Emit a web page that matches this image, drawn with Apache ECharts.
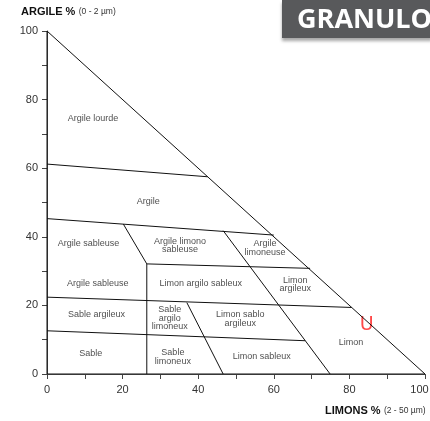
<!DOCTYPE html>
<html lang="fr">
  <head>
    <meta charset="UTF-8" />
    <title>Triangle des textures</title>
    <script src="https://cdn.jsdelivr.net/npm/echarts@6/dist/echarts.min.js"></script>
    <style>
      html, body { margin: 0; padding: 0; background: #fff; }
      #main { width: 430px; height: 421px; }
    </style>
  </head>
  <body>
    <div id="main"></div>
    <script>
      // limons % (x) / argile % (y)
      const triangle = [
        [[0, 100], [100, 0]],
        [[0, 0], [100, 0]],
        [[0, 0], [0, 100]],
      ];
      const zoneLines = [
        [[0, 61.2], [42.5, 57.5]],
        [[0, 45.3], [60, 40.5]],
        [[20.2, 43.7], [26.4, 32.1]],
        [[26.4, 32.1], [26.4, 0]],
        [[26.4, 32.1], [69.6, 30.8]],
        [[46.6, 41.8], [74.9, 0]],
        [[0, 22.4], [80.6, 19.4]],
        [[0, 12.6], [68.3, 9.7]],
        [[37, 20.8], [46.6, 0]],
      ];
      const zoneNames = [
        'Argile lourde', 'Argile', 'Argile sableuse', 'Argile limono\nsableuse',
        'Argile\nlimoneuse', 'Argile sableuse', 'Limon argilo sableux', 'Limon\nargileux',
        'Sable argileux', 'Sable\nargilo\nlimoneux', 'Limon sablo\nargileux', 'Sable',
        'Sable\nlimoneux', 'Limon sableux', 'Limon',
      ];
      const zoneX = [12.2, 26.8, 11.0, 35.2, 57.7, 13.4, 40.7, 65.7, 13.1, 32.5, 51.1, 11.6, 33.3, 56.8, 80.4];
      const zoneY = [74.6, 50.4, 37.9, 37.5, 36.7, 26.4, 26.4, 26.1, 17.3, 16.3, 16.0, 6.0, 5.0, 5.2, 9.3];
      const sample = { name: 'U', limons: 84.6, argile: 14.2 };

      const lineColor = '#111';
      const axisColor = '#444';

      const lineSeries = triangle.concat(zoneLines).map(seg => ({
        type: 'line',
        data: seg,
        symbol: 'none',
        silent: true,
        lineStyle: { color: lineColor, width: 1 },
      }));

      const options = {
        animation: false,
        grid: { left: 47, right: 5, top: 31, bottom: 47, containLabel: false, outerBoundsMode: 'none' },
        xAxis: {
          type: 'value', min: 0, max: 100, interval: 10, offset: 3,
          axisLine: { lineStyle: { color: axisColor, width: 1 } },
          axisTick: { length: 5, lineStyle: { color: axisColor } },
          axisLabel: {
            color: '#333', fontSize: 11, fontFamily: 'Liberation Sans', margin: 7,
            formatter: v => (v === 100 ? '{last|100}' : v % 20 === 0 ? String(v) : ''),
            rich: { last: { fontSize: 11, color: '#333', fontFamily: 'Liberation Sans', padding: [0, 11, 0, 0] } },
          },
          splitLine: { show: false },
        },
        yAxis: {
          type: 'value', min: 0, max: 100, interval: 10, offset: 4,
          axisLine: { show: true, lineStyle: { color: axisColor, width: 1 } },
          axisTick: { show: true, length: 5, lineStyle: { color: axisColor } },
          axisLabel: {
            color: '#333', fontSize: 11, fontFamily: 'Liberation Sans', margin: 5,
            formatter: v => (v % 20 === 0 ? String(v) : ''),
          },
          splitLine: { show: false },
        },
        graphic: [
          {
            type: 'rect', shape: { x: 282, y: 0, width: 150, height: 38 },
            style: { fill: '#58595b', shadowBlur: 3, shadowOffsetY: 3, shadowColor: 'rgba(0,0,0,0.35)' },
          },
          {
            type: 'text',
            style: {
              x: 297, y: 20, text: 'GRANULO', fill: '#fff', verticalAlign: 'middle',
              fontSize: 27, fontWeight: 'bold', fontFamily: 'Open Sans',
            },
          },
          {
            type: 'text',
            style: {
              x: 21, y: 12, verticalAlign: 'middle',
              text: '{b|ARGILE %} {s|(0 - 2 µm)}',
              rich: {
                b: { fontSize: 11, fontWeight: 'bold', fontFamily: 'Liberation Sans', fill: '#111' },
                s: { fontSize: 8.5, fontFamily: 'Liberation Sans', fill: '#333' },
              },
            },
          },
          {
            type: 'text',
            style: {
              x: 325, y: 411, verticalAlign: 'middle',
              text: '{b|LIMONS %} {s|(2 - 50 µm)}',
              rich: {
                b: { fontSize: 11, fontWeight: 'bold', fontFamily: 'Liberation Sans', fill: '#111' },
                s: { fontSize: 8.5, fontFamily: 'Liberation Sans', fill: '#333' },
              },
            },
          },
        ],
        series: lineSeries.concat([
          {
            type: 'scatter', symbolSize: 0, silent: true,
            data: zoneNames.map((n, i) => ({ name: n, value: [zoneX[i], zoneY[i]] })),
            label: {
              show: true, position: 'inside', formatter: p => p.name,
              fontSize: 9, lineHeight: 8.5, color: '#222', fontFamily: 'Liberation Sans',
              align: 'center',
            },
          },
          {
            type: 'scatter', symbolSize: 0, silent: true,
            data: [{ name: sample.name, value: [sample.limons, sample.argile] }],
            label: {
              show: true, position: 'inside', formatter: p => p.name,
              fontSize: 19, color: '#ff1a1a', fontFamily: 'DejaVu Sans',
            },
          },
        ]),
      };

      const myChart = echarts.init(document.getElementById('main'));
      myChart.setOption(options);
    </script>
  </body>
</html>
